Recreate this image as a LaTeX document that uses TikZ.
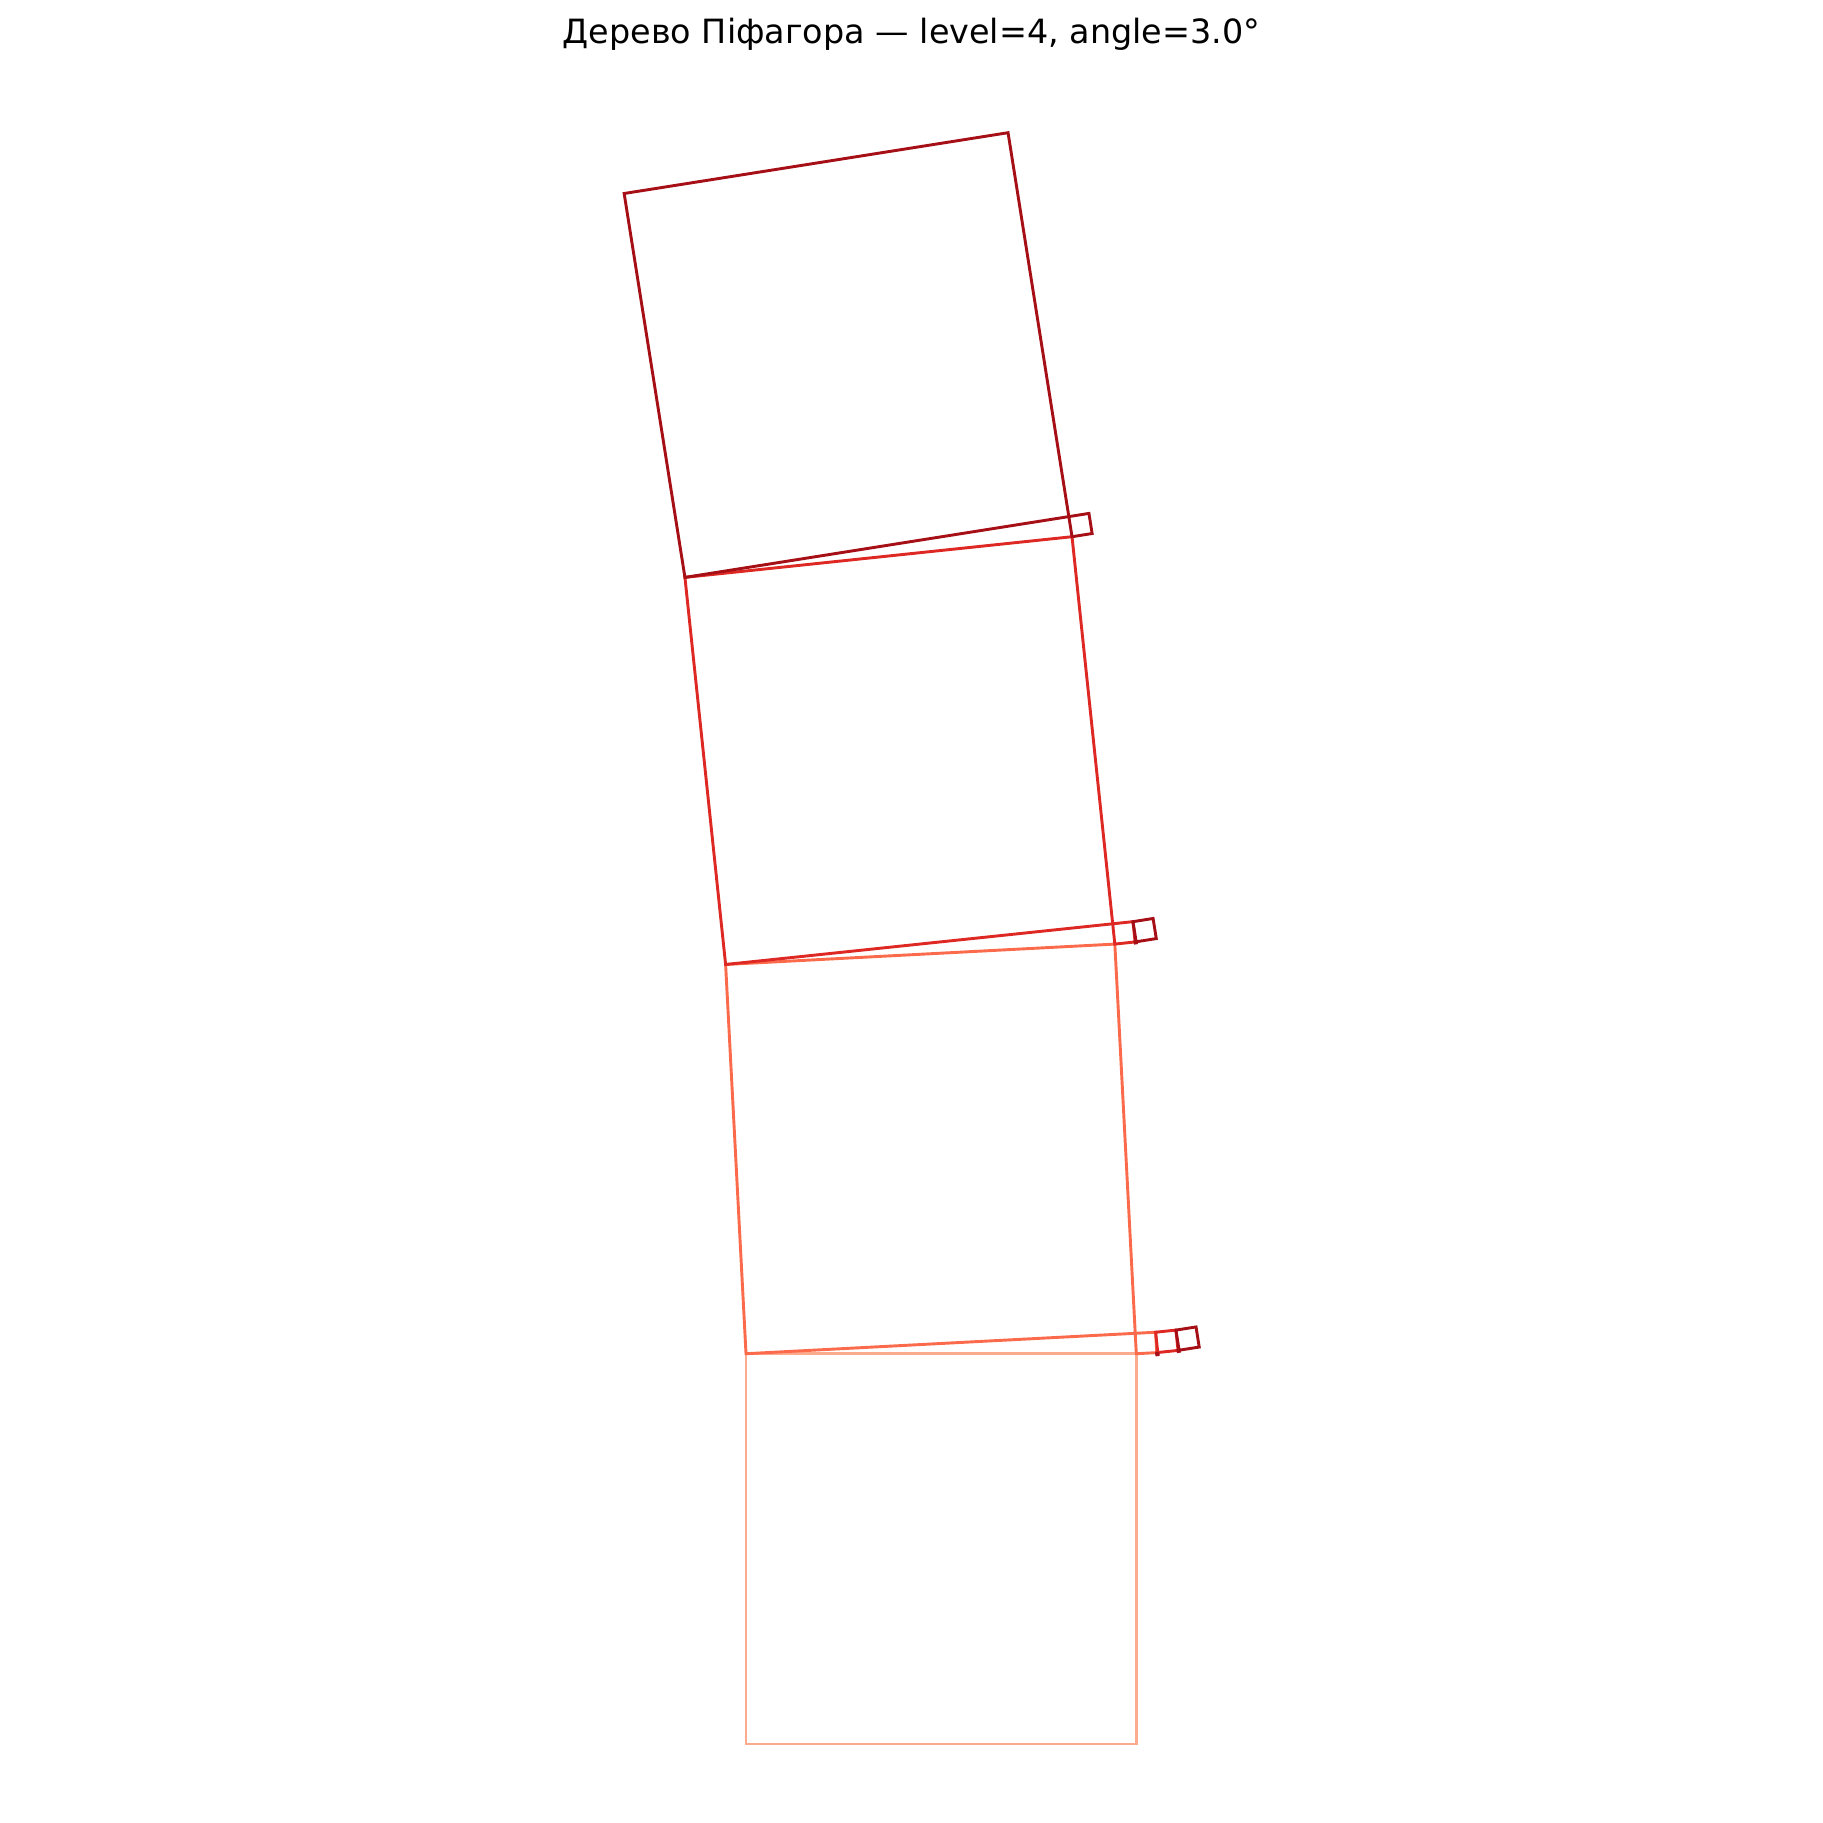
\documentclass[tikz,border=0pt]{standalone}
\usepackage{fontspec}
\setmainfont{DejaVu Sans}
\definecolor{dzero}{RGB}{252,171,142}
\definecolor{done}{RGB}{251,106,74}
\definecolor{dtwo}{RGB}{222,40,36}
\definecolor{dthree}{RGB}{165,15,21}
\tikzset{
  sq0/.style={draw=dzero,line width=1.15pt,line join=miter},
  sq1/.style={draw=done,line width=1.15pt,line join=miter},
  sq2/.style={draw=dtwo,line width=1.15pt,line join=miter},
  sq3/.style={draw=dthree,line width=1.15pt,line join=miter},
  titletext/.style={anchor=base,font=\fontsize{13.2pt}{15pt}\selectfont,inner sep=0pt}
}
\pgfmathsetmacro\pyCa{cos(3)}
\pgfmathsetmacro\pySa{sin(3)}
\newcommand\pysq[5]{%
 \begingroup
 \pgfmathsetmacro\pyQx{(#2)+(#4)}%
 \pgfmathsetmacro\pyQy{(#3)+(#5)}%
 \pgfmathsetmacro\pyAx{(#2)-(#5)}%
 \pgfmathsetmacro\pyAy{(#3)+(#4)}%
 \pgfmathsetmacro\pyBx{\pyQx-(#5)}%
 \pgfmathsetmacro\pyBy{\pyQy+(#4)}%
 \draw[sq#1] (#2,#3) -- (\pyQx,\pyQy) -- (\pyBx,\pyBy) -- (\pyAx,\pyAy) -- cycle;
 \ifnum#1<3
   \pgfmathsetmacro\pyLx{\pyCa*(\pyCa*(#4)-\pySa*(#5))}%
   \pgfmathsetmacro\pyLy{\pyCa*(\pySa*(#4)+\pyCa*(#5))}%
   \pgfmathsetmacro\pyCx{\pyAx+\pyLx}%
   \pgfmathsetmacro\pyCy{\pyAy+\pyLy}%
   \pgfmathsetmacro\pyRx{\pyBx-\pyCx}%
   \pgfmathsetmacro\pyRy{\pyBy-\pyCy}%
   \pgfmathtruncatemacro\pyD{#1+1}%
   \edef\pyNext{\noexpand\pysq{\pyD}{\pyAx}{\pyAy}{\pyLx}{\pyLy}\noexpand\pysq{\pyD}{\pyCx}{\pyCy}{\pyRx}{\pyRy}}%
   \expandafter\endgroup\pyNext
 \else
   \endgroup
 \fi}
\begin{document}
\begin{tikzpicture}[x=154.2pt,y=154.2pt]
\useasboundingbox (-1.9114,-0.2024) rectangle (2.7594,4.4684);
\node[titletext] (title) at (0.424,4.3557) {Дерево Піфагора — level=4, angle=3.0°};
\pysq{0}{0}{0}{1}{0}
\end{tikzpicture}
\end{document}
